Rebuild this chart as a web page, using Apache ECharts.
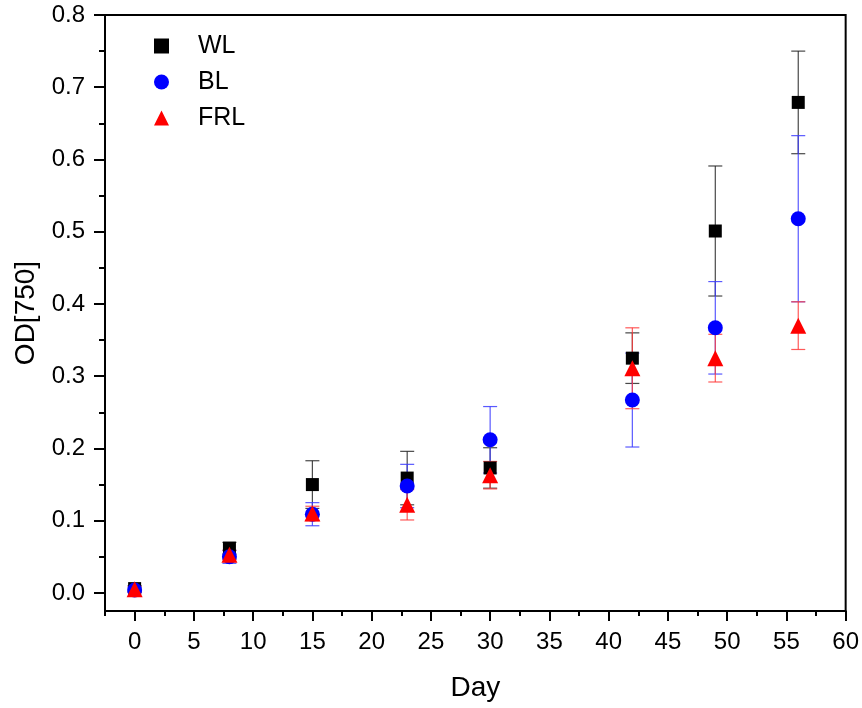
<!DOCTYPE html>
<html>
<head>
<meta charset="utf-8">
<script src="https://cdn.jsdelivr.net/npm/echarts@6/dist/echarts.min.js"></script>
<style>html,body{margin:0;padding:0;background:#fff}#c{width:862px;height:708px}</style>
</head>
<body>
<div id="c"></div>
<script>
var days = [0, 8, 15, 23, 30, 42, 49, 56];
var WL = [0.006, 0.062, 0.150, 0.159, 0.173, 0.325, 0.501, 0.679];
var WLerr = [0.004, 0.008, 0.033, 0.037, 0.028, 0.035, 0.090, 0.071];
var BL = [0.004, 0.050, 0.109, 0.148, 0.212, 0.267, 0.367, 0.518];
var BLerr = [0.003, 0.009, 0.016, 0.030, 0.046, 0.065, 0.064, 0.115];
var FRL = [0.005, 0.053, 0.110, 0.122, 0.163, 0.311, 0.325, 0.370];
var FRLerr = [0.004, 0.006, 0.010, 0.021, 0.019, 0.056, 0.033, 0.033];

var xTicks = [0, 5, 10, 15, 20, 25, 30, 35, 40, 45, 50, 55, 60];
var xMinorTicks = [-2.5, 2.5, 7.5, 12.5, 17.5, 22.5, 27.5, 32.5, 37.5, 42.5, 47.5, 52.5, 57.5];
var yTicks = [0, 0.1, 0.2, 0.3, 0.4, 0.5, 0.6, 0.7, 0.8];
var yMinorTicks = [0.05, 0.15, 0.25, 0.35, 0.45, 0.55, 0.65, 0.75];

var FONT = "'Liberation Sans', Arial, sans-serif";

function pts(vals) { return days.map(function (d, i) { return [d, vals[i]]; }); }
function errData(vals, errs) { return days.map(function (d, i) { return [d, vals[i] - errs[i], vals[i] + errs[i]]; }); }

function errSeries(name, vals, errs, color) {
  return {
    type: 'custom',
    name: name + ' error',
    data: errData(vals, errs),
    z: 3,
    silent: true,
    renderItem: function (params, api) {
      var x = api.value(0);
      var lo = api.coord([x, api.value(1)]);
      var hi = api.coord([x, api.value(2)]);
      var h = 7;
      var style = { stroke: color, lineWidth: 1.2, fill: null };
      return {
        type: 'group',
        children: [
          { type: 'line', shape: { x1: lo[0], y1: lo[1], x2: hi[0], y2: hi[1] }, style: style },
          { type: 'line', shape: { x1: lo[0] - h, y1: lo[1], x2: lo[0] + h, y2: lo[1] }, style: style },
          { type: 'line', shape: { x1: hi[0] - h, y1: hi[1], x2: hi[0] + h, y2: hi[1] }, style: style }
        ]
      };
    }
  };
}

var chart = echarts.init(document.getElementById('c'), null, { renderer: 'canvas' });

var axisLabelStyle = { color: '#000', fontFamily: FONT, fontSize: 24 };

chart.setOption({
  animation: false,
  backgroundColor: '#fff',
  grid: { left: 105, right: 14, top: 15, bottom: 97, show: true, borderColor: '#000', borderWidth: 2, backgroundColor: 'transparent' },
  legend: {
    orient: 'vertical',
    left: 149, top: 27,
    itemWidth: 15, itemHeight: 15,
    itemGap: 8,
    data: ['WL', 'BL', 'FRL'],
    textStyle: { fontFamily: FONT, fontSize: 25, color: '#000', padding: [0, 0, 0, 24], lineHeight: 28 }
  },
  xAxis: [
    {
      type: 'value', min: -2.5, max: 60,
      name: 'Day', nameLocation: 'middle', nameGap: 63,
      nameTextStyle: { fontFamily: FONT, fontSize: 28, color: '#000' },
      axisLine: { show: true, onZero: false, lineStyle: { color: '#000', width: 2 } },
      axisTick: { show: true, length: 10, customValues: xTicks, lineStyle: { color: '#000', width: 2 } },
      axisLabel: Object.assign({ customValues: xTicks, margin: 19 }, axisLabelStyle),
      splitLine: { show: false }
    },
    {
      type: 'value', min: -2.5, max: 60, position: 'bottom',
      axisLine: { show: false, onZero: false },
      axisTick: { show: true, length: 5, customValues: xMinorTicks, lineStyle: { color: '#000', width: 2 } },
      axisLabel: { show: false },
      splitLine: { show: false }
    }
  ],
  yAxis: [
    {
      type: 'value', min: -0.025, max: 0.8,
      name: 'OD[750]', nameLocation: 'middle', nameGap: 62,
      nameTextStyle: { fontFamily: FONT, fontSize: 28, color: '#000' },
      axisLine: { show: true, onZero: false, lineStyle: { color: '#000', width: 2 } },
      axisTick: { show: true, length: 11, customValues: yTicks, lineStyle: { color: '#000', width: 2 } },
      axisLabel: Object.assign({ customValues: yTicks, margin: 20, formatter: function (v) { return v.toFixed(1); } }, axisLabelStyle),
      splitLine: { show: false }
    },
    {
      type: 'value', min: -0.025, max: 0.8, position: 'left',
      axisLine: { show: false, onZero: false },
      axisTick: { show: true, length: 6, customValues: yMinorTicks, lineStyle: { color: '#000', width: 2 } },
      axisLabel: { show: false },
      splitLine: { show: false }
    }
  ],
  series: [
    errSeries('WL', WL, WLerr, 'rgba(40,40,40,0.85)'),
    { type: 'scatter', name: 'WL', data: pts(WL), symbol: 'rect', symbolSize: 13, itemStyle: { color: '#000', opacity: 1 }, z: 4 },
    errSeries('BL', BL, BLerr, 'rgba(60,60,255,0.85)'),
    { type: 'scatter', name: 'BL', data: pts(BL), symbol: 'circle', symbolSize: 15, itemStyle: { color: '#0000ff', opacity: 1 }, z: 4 },
    errSeries('FRL', FRL, FRLerr, 'rgba(255,60,60,0.85)'),
    { type: 'scatter', name: 'FRL', data: pts(FRL), symbol: 'triangle', symbolSize: 16, itemStyle: { color: '#ff0000', opacity: 1 }, z: 4 }
  ]
});
</script>
</body>
</html>
